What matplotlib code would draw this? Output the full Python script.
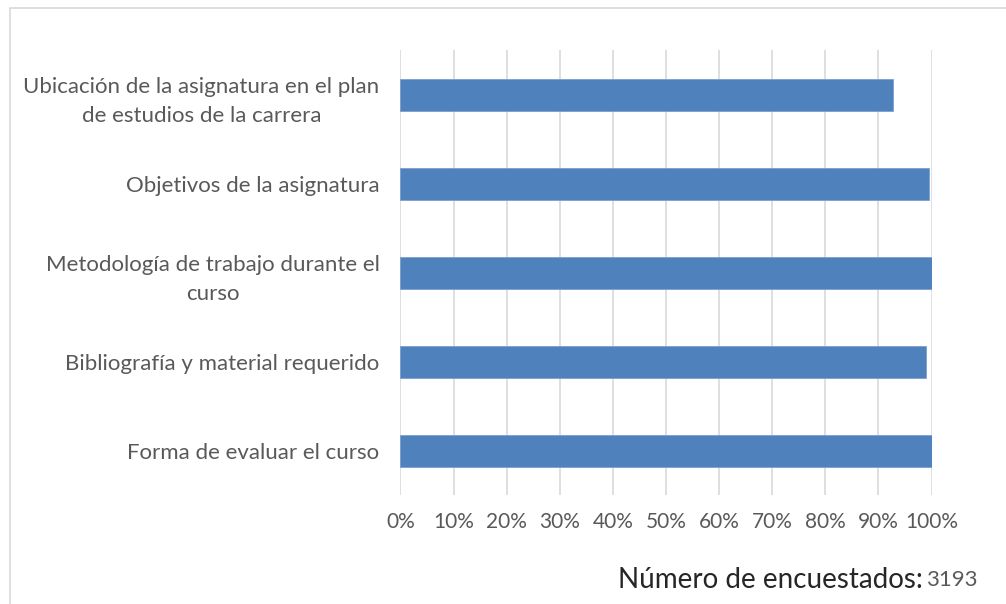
import matplotlib.pyplot as plt
from matplotlib.patches import Rectangle
from matplotlib.ticker import PercentFormatter

plt.rcParams["font.family"] = ["Lato", "DejaVu Sans"]

# data, top to bottom
categories = [
    "Ubicación de la asignatura en el plan\nde estudios de la carrera",
    "Objetivos de la asignatura",
    "Metodología de trabajo durante el\ncurso",
    "Bibliografía y material requerido",
    "Forma de evaluar el curso",
]
values = [92.7, 99.6, 100.0, 98.9, 100.0]
ticks = list(range(0, 101, 10))
n_encuestados = 3193

BAR = "#4f81bd"
GRID = "#d9d9d9"
TXT = "#595959"

fig = plt.figure(figsize=(10.06, 6.04), dpi=100)
ax = fig.add_axes([0.398, 0.18, 0.528, 0.737])

pos = list(range(len(categories)))[::-1]
ax.barh(pos, values, height=0.36, color=BAR, edgecolor="#7a9fd0", linewidth=0.6, zorder=3)

ax.set_xlim(0, 100)
ax.set_ylim(-0.5, 4.5)
ax.set_xticks(ticks)
ax.xaxis.set_major_formatter(PercentFormatter(decimals=0))
ax.set_yticks(pos)
ax.set_yticklabels(categories, multialignment="center", linespacing=1.6)
ax.tick_params(axis="y", length=0, labelsize=16, colors=TXT, pad=15)
ax.tick_params(axis="x", length=0, labelsize=15, colors=TXT, pad=12)
ax.grid(axis="x", color=GRID, linewidth=1.2, zorder=0)
for s in ax.spines.values():
    s.set_visible(False)

# chart frame (only left/top visible in the crop)
fig.patches.append(Rectangle((0.01, -0.1), 1.2, 1.087, transform=fig.transFigure,
                             fill=False, edgecolor="#d9d9d9", linewidth=1.2))

fig.text(0.917, 0.04, "Número de encuestados:", ha="right", va="center",
         fontsize=20, color="#262626")
fig.text(0.920, 0.04, str(n_encuestados), ha="left", va="center",
         fontsize=16, color=TXT)

fig.savefig("out.png", dpi=100)
